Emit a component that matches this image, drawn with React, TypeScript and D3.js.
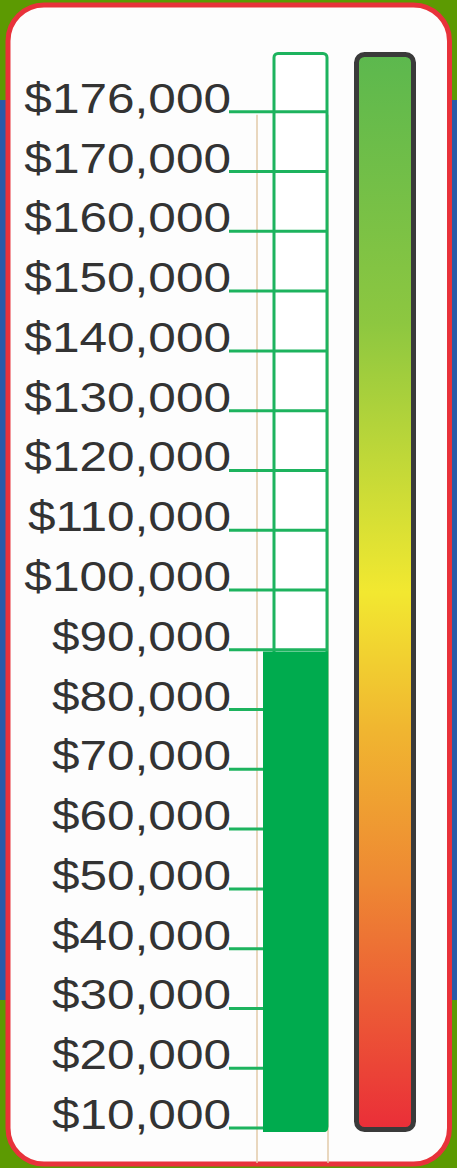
import React, { useEffect, useRef } from 'react';
import * as d3 from 'd3';

// tick values, top to bottom
const tickValues = [176000, 170000, 160000, 150000, 140000, 130000, 120000, 110000, 100000, 90000,
  80000, 70000, 60000, 50000, 40000, 30000, 20000, 10000];
const raised = 89700;
const gradientStops = [
  { offset: 0, color: '#5cb84e' },
  { offset: 0.25, color: '#8dc740' },
  { offset: 0.5, color: '#f2e830' },
  { offset: 0.63, color: '#f0b530' },
  { offset: 0.77, color: '#ee8833' },
  { offset: 1, color: '#ea2e38' },
];

const W = 457;
const H = 1168;

export default function App() {
  const ref = useRef<SVGSVGElement>(null);

  useEffect(() => {
    const svg = d3.select(ref.current);
    svg.selectAll('*').remove();

    const fmt = d3.format('$,');
    const labels = tickValues.map(v => fmt(v));

    // one extra step above the goal for the top of the tube
    const point = d3.scalePoint<string>()
      .domain(['top', ...labels])
      .range([52, 1128]);
    const yVal = d3.scaleLinear()
      .domain(tickValues)
      .range(labels.map(l => point(l) as number));

    const tubeTop = point('top') as number;
    const tubeBottom = 1132;

    // background + card
    svg.append('rect').attr('width', W).attr('height', H).attr('fill', '#5c9a02');
    svg.append('rect').attr('x', 0).attr('y', 100).attr('width', 6).attr('height', 900).attr('fill', '#2a5aa8');
    svg.append('rect').attr('x', 450).attr('y', 100).attr('width', 7).attr('height', 900).attr('fill', '#2a5aa8');
    svg.append('rect')
      .attr('x', 8).attr('y', 5).attr('width', 441.5).attr('height', 1159)
      .attr('rx', 36)
      .attr('fill', '#fdfdfd')
      .attr('stroke', '#e8323a')
      .attr('stroke-width', 5);

    // tan guide lines
    [257, 328].forEach(x => {
      svg.append('line')
        .attr('x1', x).attr('x2', x)
        .attr('y1', yVal(176000) + 3).attr('y2', 1163)
        .attr('stroke', '#e2caa8')
        .attr('stroke-width', 1.5);
    });

    // tube outline
    svg.append('rect')
      .attr('x', 274).attr('y', tubeTop + 1.5)
      .attr('width', 53).attr('height', tubeBottom - tubeTop - 3)
      .attr('rx', 4)
      .attr('fill', 'white')
      .attr('stroke', '#1db35e')
      .attr('stroke-width', 3);

    // tick lines
    svg.selectAll('.tick-line')
      .data(tickValues)
      .enter()
      .append('line')
      .attr('x1', 229).attr('x2', 327)
      .attr('y1', d => yVal(d)).attr('y2', d => yVal(d))
      .attr('stroke', '#1db35e')
      .attr('stroke-width', 3);

    // filled bar
    const barTop = yVal(raised);
    svg.append('path')
      .attr('d', () => {
        const x0 = 263, x1 = 328, r = 4;
        return `M${x0},${barTop}H${x1}V${tubeBottom - r}Q${x1},${tubeBottom} ${x1 - r},${tubeBottom}H${x0}Z`;
      })
      .attr('fill', '#00ab4e');

    // gradient meter
    const grad = svg.append('defs').append('linearGradient')
      .attr('id', 'meterGrad')
      .attr('x1', 0).attr('x2', 0).attr('y1', 0).attr('y2', 1);
    grad.selectAll('stop')
      .data(gradientStops)
      .enter()
      .append('stop')
      .attr('offset', d => d.offset)
      .attr('stop-color', d => d.color);

    svg.append('rect')
      .attr('x', 356.5).attr('y', tubeTop + 2.5)
      .attr('width', 57).attr('height', tubeBottom - tubeTop - 5)
      .attr('rx', 8)
      .attr('fill', 'url(#meterGrad)')
      .attr('stroke', '#3a3a3a')
      .attr('stroke-width', 5);

    // labels
    svg.selectAll('.tick-label')
      .data(tickValues)
      .enter()
      .append('text')
      .attr('transform', d => `translate(231, ${yVal(d) + 1}) scale(1.18, 1)`)
      .attr('text-anchor', 'end')
      .attr('font-family', '"Liberation Sans", Arial, sans-serif')
      .attr('font-size', 42)
      .attr('fill', '#333333')
      .text(d => fmt(d));
  }, []);

  return (
    <svg
      ref={ref}
      width={W}
      height={H}
      style={{ position: 'absolute', left: 0, top: 0, display: 'block' }}
    />
  );
}
